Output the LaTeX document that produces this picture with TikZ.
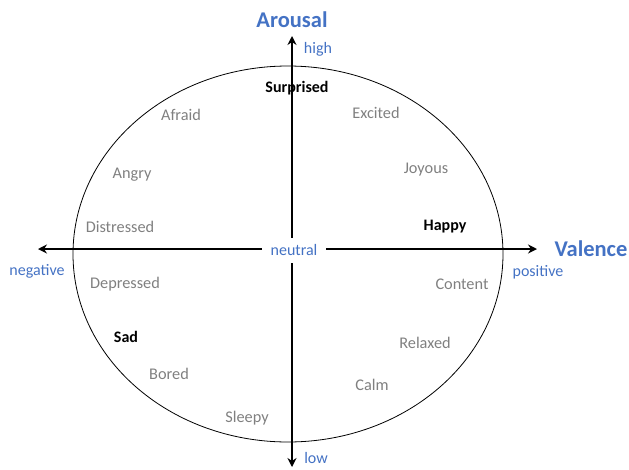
\documentclass[tikz,border=0pt]{standalone}
\usepackage{fontspec}
\setmainfont{Carlito}
\usepackage{xcolor}
\usetikzlibrary{arrows.meta}
\definecolor{axisblue}{RGB}{68,114,196}
\definecolor{moodgray}{RGB}{128,128,128}
\tikzset{
  axis/.style={line width=2.4pt,-{Stealth[length=9pt,width=9pt]}},
  mood/.style={text=moodgray,font=\fontsize{16.3}{18}\selectfont},
  keymood/.style={text=black,font=\fontsize{16}{18}\selectfont\bfseries},
  pole/.style={text=axisblue,font=\fontsize{16}{18}\selectfont},
  title/.style={text=axisblue,font=\fontsize{22.5}{26}\selectfont\bfseries}
}
\begin{document}
\begin{tikzpicture}[x=1pt,y=-1pt]
\useasboundingbox (0,0) rectangle (629,469);
\draw[line width=0.8pt] (288,254) ellipse [x radius=215, y radius=188];

\coordinate (west) at (38,249);
\coordinate (east) at (537,249);
\coordinate (north) at (292,36);
\coordinate (south) at (292,467);
\coordinate (origin) at (292,249);

\draw[axis] (origin) -- (east);
\draw[axis] (origin) -- (west);
\draw[axis] (origin) -- (north);
\draw[axis] (origin) -- (south);

\node[pole,fill=white,minimum width=64pt,minimum height=25pt] (neutral) at (294,250) {neutral};

\node[title] (arousal) at (292,20) {Arousal};
\node[title] (valence) at (591,249) {Valence};
\node[pole] (high) at (318,49) {high};
\node[pole] (low) at (316,458) {low};
\node[pole] (negative) at (37,271) {negative};
\node[pole] (positive) at (538,272) {positive};

\node[keymood] (surprised) at (297,88) {Surprised};
\node[keymood] (happy) at (445,227) {Happy};
\node[keymood] (sad) at (126,337) {Sad};

\node[mood] (afraid) at (181,115) {Afraid};
\node[mood] (excited) at (376,113) {Excited};
\node[mood] (angry) at (132,175) {Angry};
\node[mood] (joyous) at (426,170) {Joyous};
\node[mood] (distressed) at (120,227) {Distressed};
\node[mood] (depressed) at (125,284) {Depressed};
\node[mood] (content) at (462,284) {Content};
\node[mood] (relaxed) at (425,343) {Relaxed};
\node[mood] (bored) at (169,374) {Bored};
\node[mood] (calm) at (372,385) {Calm};
\node[mood] (sleepy) at (247,418) {Sleepy};
\end{tikzpicture}
\end{document}
